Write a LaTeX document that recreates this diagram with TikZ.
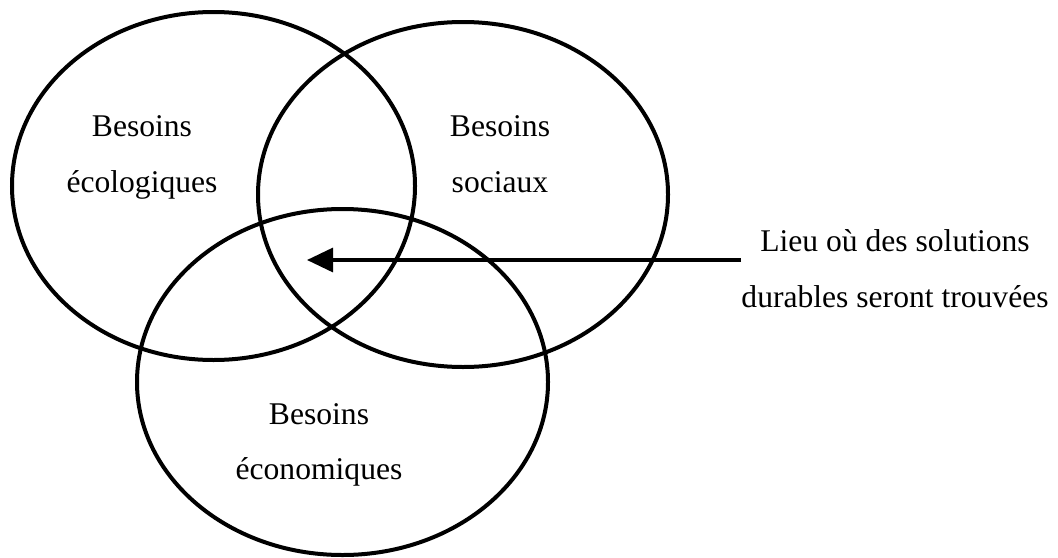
\documentclass[tikz,border=0pt]{standalone}
\usepackage{fontspec}
\setmainfont{Liberation Serif}
\usetikzlibrary{shapes.geometric, arrows.meta, positioning}

\tikzset{
  besoin/.style={draw, ellipse, line width=2pt, inner sep=0pt},
  etiquette/.style={anchor=base, inner sep=0pt, font=\fontsize{15.8}{18}\selectfont},
  fleche/.style={line width=1.6pt, -{Triangle[length=13pt, width=12pt]}}
}

\begin{document}
\begin{tikzpicture}[x=0.5pt, y=-0.5pt]
  \useasboundingbox (0,0) rectangle (1058,557);
  % les trois ensembles
  \node[besoin, minimum width=201.5pt, minimum height=174pt] (eco) at (213.5,186) {};
  \node[besoin, minimum width=205pt, minimum height=172.5pt] (soc) at (463,194.5) {};
  \node[besoin, minimum width=205.5pt, minimum height=173pt] (econ) at (342.5,382) {};

  % textes
  \node[etiquette] (eco1) at (142,136) {Besoins};
  \node[etiquette] (eco2) at (142,192) {écologiques};
  \node[etiquette] (soc1) at (500,136) {Besoins};
  \node[etiquette] (soc2) at (500,192) {sociaux};
  \node[etiquette] (econ1) at (319,424) {Besoins};
  \node[etiquette] (econ2) at (319,479) {économiques};
  \node[etiquette] (lieu1) at (895,251) {Lieu où des solutions};
  \node[etiquette] (lieu2) at (895,307) {durables seront trouvées};

  % fleche vers l'intersection
  \coordinate (depart) at (741,260);
  \coordinate (centre) at (307,260);
  \draw[fleche] (depart) -- (centre);
\end{tikzpicture}
\end{document}
